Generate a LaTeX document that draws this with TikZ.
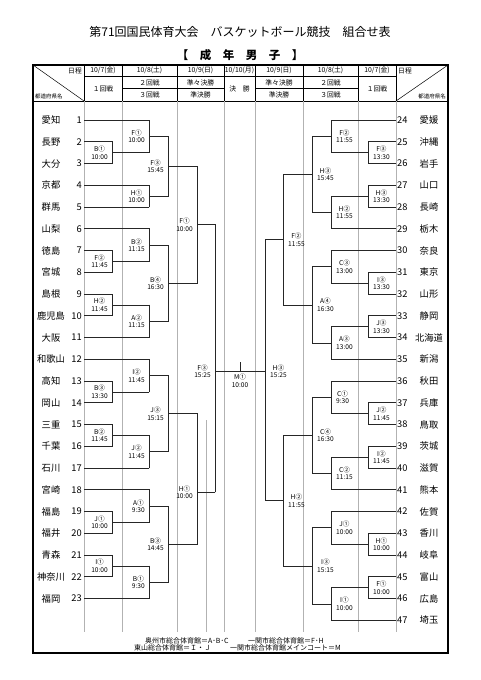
\documentclass[tikz,border=0pt]{standalone}
\usepackage{fontspec}
\setmainfont{Noto Sans CJK JP}
\usetikzlibrary{positioning}
\tikzset{
  waku/.style={draw,line width=1.3pt},
  kei/.style={draw,line width=0.5pt},
  usu/.style={draw=black!30,line width=0.5pt},
  sen/.style={draw=black!85,line width=0.8pt,line cap=rect},
  ken/.style={inner sep=0pt,font=\fontsize{9.3}{9.3}\selectfont},
  ban/.style={inner sep=0pt,font=\fontsize{9.3}{9.3}\selectfont},
  kumi/.style={inner sep=0pt,align=center,font=\fontsize{6.6}{7.4}\selectfont},
  fej/.style={inner sep=0pt,font=\fontsize{6.8}{6.8}\selectfont},
  chu/.style={inner sep=0pt,font=\fontsize{7}{7}\selectfont},
}
\begin{document}
\begin{tikzpicture}[x=1pt,y=-1pt]
  \useasboundingbox (0,0) rectangle (481,680);
  \node[font=\fontsize{12}{12}\selectfont] (cim) at (240,32)
    {第71回国民体育大会　バスケットボール競技　組合せ表};
  \node[font=\fontsize{11.5}{12}\selectfont\bfseries] (alcim) at (240,55)
    {【　成　年　男　子　】};
  % waku to keisen
  \draw[waku] (33,65) rectangle (448,653);
  \draw[kei] (33,101) -- (448,101);
  \draw[kei] (84,76) -- (396,76);
  \draw[kei] (122,88.5) -- (224,88.5) (255,88.5) -- (358,88.5);
  \foreach \x in {84,122,177,224,255,303,358,396} {
    \draw[kei] (\x,65) -- (\x,101);
    \draw[usu] (\x,101) -- (\x,632);
  }
  \draw[usu] (206,420) -- (206,632);
  \draw[kei] (33,65) -- (84,101) (396,101) -- (448,65);
  \node[fej,anchor=north east] (nt1) at (82,67.5) {日程};
  \node[fej,anchor=south west,font=\fontsize{5.5}{5.5}\selectfont] (tk1) at (35,99) {都道府県名};
  \node[fej,anchor=north west] (nt2) at (398,67.5) {日程};
  \node[fej,anchor=south east,font=\fontsize{5.5}{5.5}\selectfont] (tk2) at (446,99) {都道府県名};
  \node[fej] (d1) at (103,70.5) {10/7(金)};
  \node[fej] (d2) at (149.5,70.5) {10/8(土)};
  \node[fej] (d3) at (200.5,70.5) {10/9(日)};
  \node[fej] (d4) at (239.5,70.5) {10/10(月)};
  \node[fej] (d5) at (279,70.5) {10/9(日)};
  \node[fej] (d6) at (330.5,70.5) {10/8(土)};
  \node[fej] (d7) at (377,70.5) {10/7(金)};
  \node[fej] (s1) at (103,88.5) {１回戦};
  \node[fej] (s2) at (149.5,82.5) {２回戦};
  \node[fej] (s3) at (149.5,95) {３回戦};
  \node[fej] (s4) at (200.5,82.5) {準々決勝};
  \node[fej] (s5) at (200.5,95) {準決勝};
  \node[fej] (s6) at (239.5,88.5) {決　勝};
  \node[fej] (s7) at (279,82.5) {準々決勝};
  \node[fej] (s8) at (279,95) {準決勝};
  \node[fej] (s9) at (330.5,82.5) {２回戦};
  \node[fej] (s10) at (330.5,95) {３回戦};
  \node[fej] (s11) at (377,88.5) {１回戦};
  % hidari no chiimu
  \foreach \nev/\x [count=\i] in {愛知/149,長野/112,大分/112,京都/149,群馬/149,
      山梨/149,徳島/112,宮城/112,島根/112,鹿児島/112,大阪/149,和歌山/149,
      高知/112,岡山/112,三重/112,千葉/112,石川/149,宮崎/149,福島/112,
      福井/112,青森/112,神奈川/112,福岡/149} {
    \node[ken] (ken\i) at (51,{120+21.75*(\i-1)}) {\nev};
    \node[ban,anchor=east] (ban\i) at (82,{120+21.75*(\i-1)}) {\i};
    \draw[sen] (84,{120+21.75*(\i-1)}) -- (\x,{120+21.75*(\i-1)});
  }
  % migi no chiimu
  \foreach \nev/\x [count=\i from 24] in {愛媛/331,沖縄/368,岩手/368,山口/368,
      長崎/368,栃木/331,奈良/331,東京/368,山形/368,静岡/368,北海道/368,
      新潟/331,秋田/331,兵庫/368,鳥取/368,茨城/368,滋賀/368,熊本/331,
      佐賀/331,香川/368,岐阜/368,富山/368,広島/368,埼玉/331} {
    \node[ken] (ken\i) at (429,{120+21.75*(\i-24)}) {\nev};
    \node[ban,anchor=west] (ban\i) at (397,{120+21.75*(\i-24)}) {\i};
    \draw[sen] (396,{120+21.75*(\i-24)}) -- (\x,{120+21.75*(\i-24)});
  }
  % hidari no shiai
  \foreach \j/\ya/\yb/\ym/\xo/\kod/\ido [count=\m] in {
      112/141.8/163.5/152.6/149/B①/10:00, 112/250.5/272.3/261.4/149/F②/11:45,
      112/294/315.8/304.9/149/H②/11:45, 112/381/402.8/391.9/149/B③/13:30,
      112/424.5/446.3/435.4/149/B②/11:45, 112/511.5/533.3/522.4/149/J①/10:00,
      112/555/576.8/565.9/149/I①/10:00,
      149/120/152.6/136.3/168/F①/10:00, 149/185.3/207/196.1/168/H①/10:00,
      149/228.8/261.4/245.1/168/B②/11:15, 149/304.9/337.5/321.2/168/A②/11:15,
      149/359.3/391.9/375.6/168/I②/11:45, 149/435.4/468/451.7/168/J②/11:45,
      149/489.8/522.4/506.1/168/A①/9:30, 149/565.9/598.5/582.2/168/B①/9:30,
      168/136.3/196.1/166.2/197/F③/15:45, 168/245.1/321.2/283.2/197/B④/16:30,
      168/375.6/451.7/413.7/197/J③/15:15, 168/506.1/582.2/544.2/197/B③/14:45,
      197/166.2/283.2/224.7/215/F①/10:00, 197/413.7/544.2/492/215/H①/10:00,
      215/224.7/492/371/240/F③/15:25} {
    \draw[sen] (\j,\ya) -- (\j,\yb) (\j,\ym) -- (\xo,\ym);
    \node[kumi,anchor=east] (kl\m) at (\j-4,\ym) {\kod\\\ido};
  }
  % migi no shiai
  \foreach \j/\ya/\yb/\ym/\xo/\kod/\ido [count=\m] in {
      368/141.8/163.5/152.6/331/F③/13:30, 368/185.3/207/196.1/331/H③/13:30,
      368/272.3/294/283.1/331/I③/13:30, 368/315.8/337.5/326.6/331/J③/13:30,
      368/402.8/424.5/413.6/331/J②/11:45, 368/446.3/468/457.1/331/I②/11:45,
      368/533.3/555/544.1/331/H①/10:00, 368/576.8/598.5/587.6/331/F①/10:00,
      331/120/152.6/136.3/312/F②/11:55, 331/196.1/228.8/212.4/312/H②/11:55,
      331/250.5/283.1/266.8/312/C③/13:00, 331/326.6/359.3/342.9/312/A③/13:00,
      331/381/413.6/397.3/312/C①/9:30, 331/457.1/489.8/473.4/312/C②/11:15,
      331/511.5/544.1/527.8/312/J①/10:00, 331/587.6/620.3/603.9/312/I①/10:00,
      312/136.3/212.4/174.4/283/H③/15:45, 312/266.8/342.9/304.9/283/A④/16:30,
      312/397.3/473.4/435.4/283/C④/16:30, 312/527.8/603.9/565.9/283/I③/15:15,
      283/174.4/304.9/239.6/265/F②/11:55, 283/435.4/565.9/500.6/265/H②/11:55,
      265/239.6/500.6/371/240/H③/15:25} {
    \draw[sen] (\j,\ya) -- (\j,\yb) (\j,\ym) -- (\xo,\ym);
    \node[kumi,anchor=west] (kr\m) at (\j+5,\ym) {\kod\\\ido};
  }
  % kesshou
  \draw[sen] (240,371) -- (240,362);
  \node[kumi,anchor=north] (kessho) at (240,374) {M①\\10:00};
  % kaijou
  \node[chu,anchor=west] (kj1) at (145,641) {奥州市総合体育館＝A･B･C};
  \node[chu,anchor=west] (kj2) at (248,641) {一関市総合体育館＝F･H};
  \node[chu,anchor=west] (kj3) at (134,648) {東山総合体育館＝Ｉ・Ｊ};
  \node[chu,anchor=west] (kj4) at (230,648) {一関市総合体育館メインコート＝M};
\end{tikzpicture}
\end{document}
